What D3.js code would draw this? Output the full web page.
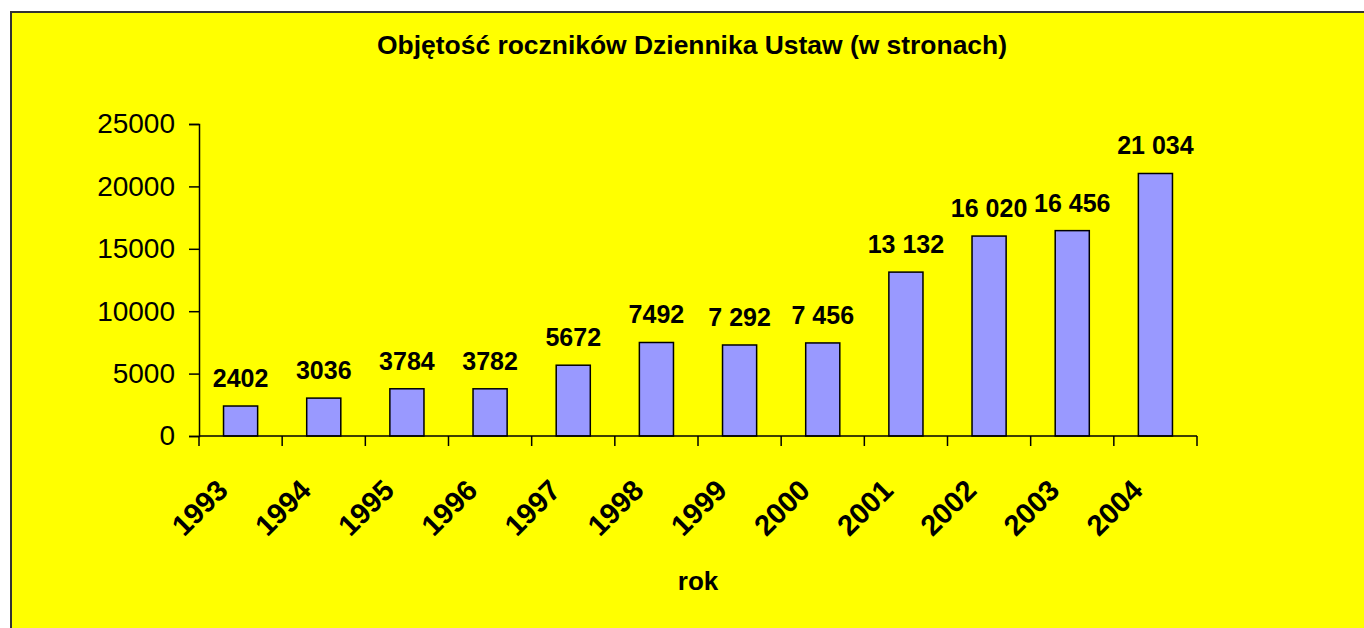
<!DOCTYPE html>
<html>
<head>
<meta charset="utf-8">
<script src="https://cdn.jsdelivr.net/npm/d3@7"></script>
<style>
  body { margin: 0; background: #fff; }
  svg { display: block; font-family: "Liberation Sans", Arial, sans-serif; }
</style>
</head>
<body>
<div id="chart"></div>
<script>
const years = ["1993", "1994", "1995", "1996", "1997", "1998", "1999", "2000", "2001", "2002", "2003", "2004"];
const pages = [2402, 3036, 3784, 3782, 5672, 7492, 7292, 7456, 13132, 16020, 16456, 21034];
const pageLabels = ["2402", "3036", "3784", "3782", "5672", "7492", "7 292", "7 456", "13 132", "16 020", "16 456", "21 034"];
const yTicks = [0, 5000, 10000, 15000, 20000, 25000];

const W = 1364, H = 628;
const svg = d3.select("#chart").append("svg")
    .attr("width", W)
    .attr("height", H);

// yellow chart area with dark frame
svg.append("rect")
    .attr("x", 11).attr("y", 12)
    .attr("width", W + 10).attr("height", H + 10)
    .attr("fill", "#ffff00")
    .attr("stroke", "#333")
    .attr("stroke-width", 2);

const plotLeft = 199, plotRight = 1197, plotTop = 124, plotBottom = 436;

const x = d3.scaleBand().domain(years).range([plotLeft, plotRight]).padding(0);
const y = d3.scaleLinear().domain([0, 25000]).range([plotBottom, plotTop]);

// y axis
const yAxis = svg.append("g")
    .attr("transform", "translate(" + plotLeft + ",0)")
    .call(d3.axisLeft(y).tickValues(yTicks).tickSize(10).tickPadding(14).tickFormat(d3.format("d")));
yAxis.select(".domain").attr("stroke", "#000").attr("stroke-width", 1.5);
yAxis.selectAll(".tick line").attr("stroke", "#000").attr("stroke-width", 1.5);
yAxis.selectAll(".tick text")
    .attr("fill", "#000")
    .attr("font-size", 28)
    .attr("font-family", "Liberation Sans, Arial, sans-serif");

// bars
const bw = x.bandwidth() * 0.41;
svg.selectAll(".bar")
    .data(pages)
    .enter()
    .append("rect")
    .attr("class", "bar")
    .attr("x", (d, i) => x(years[i]) + x.bandwidth() / 2 - bw / 2)
    .attr("width", bw)
    .attr("y", d => y(d))
    .attr("height", d => plotBottom - y(d))
    .attr("fill", "#9999ff")
    .attr("stroke", "#000")
    .attr("stroke-width", 1.5);

// value labels
svg.selectAll(".label")
    .data(pages)
    .enter()
    .append("text")
    .attr("class", "label")
    .attr("x", (d, i) => x(years[i]) + x.bandwidth() / 2)
    .attr("y", d => y(d) - 19)
    .attr("text-anchor", "middle")
    .attr("font-size", 25)
    .attr("font-weight", "bold")
    .text((d, i) => pageLabels[i]);

// x axis: line, ticks between categories
const xg = svg.append("g");
xg.append("line")
    .attr("x1", plotLeft).attr("x2", plotRight)
    .attr("y1", plotBottom).attr("y2", plotBottom)
    .attr("stroke", "#000").attr("stroke-width", 1.5);
const bounds = years.map(d => x(d)).concat([plotRight]);
xg.selectAll(".xtick")
    .data(bounds)
    .enter()
    .append("line")
    .attr("x1", d => d).attr("x2", d => d)
    .attr("y1", plotBottom).attr("y2", plotBottom + 10)
    .attr("stroke", "#000").attr("stroke-width", 1.5);

xg.selectAll(".xlabel")
    .data(years)
    .enter()
    .append("text")
    .attr("transform", d => "translate(" + (x(d) + x.bandwidth() / 2 - 11) + "," + (plotBottom + 56) + ") rotate(-45)")
    .attr("text-anchor", "end")
    .attr("font-size", 29)
    .attr("font-weight", "bold")
    .text(d => d);

// axis title
svg.append("text")
    .attr("x", (plotLeft + plotRight) / 2)
    .attr("y", 590)
    .attr("text-anchor", "middle")
    .attr("font-size", 26)
    .attr("font-weight", "bold")
    .text("rok");

// chart title
svg.append("text")
    .attr("x", 692)
    .attr("y", 54)
    .attr("text-anchor", "middle")
    .attr("font-size", 25)
    .attr("font-weight", "bold")
    .attr("textLength", 630)
    .attr("lengthAdjust", "spacingAndGlyphs")
    .text("Objętość roczników Dziennika Ustaw (w stronach)");
</script>
</body>
</html>
